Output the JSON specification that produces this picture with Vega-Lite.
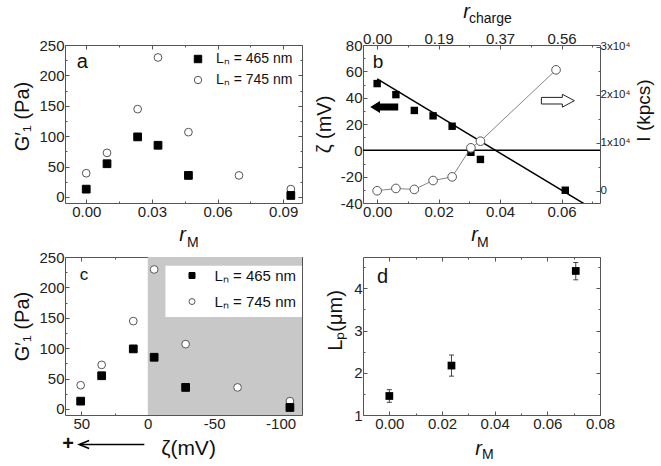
{
  "$schema": "https://vega.github.io/schema/vega-lite/v6.json",
  "background": "white",
  "padding": {"left": 12, "top": 0, "right": 0, "bottom": 0},
  "config": {
    "font": "Liberation Sans",
    "view": {"stroke": "#555555", "strokeWidth": 1},
    "axis": {"domain": false, "grid": false, "zindex": 1, "tickColor": "#555555", "tickWidth": 1, "labelFont": "Liberation Sans", "labelFontSize": 15, "labelColor": "#222222", "labelPadding": 5, "labelFlush": false, "labelOverlap": false, "titleFont": "Liberation Sans", "titleFontSize": 20, "titleFontWeight": "normal", "titleColor": "#111111"},
    "text": {"font": "Liberation Sans", "color": "#111111"}
  },
  "datasets": {
    "gp": [
      {"series": "Lₙ = 745 nm", "r": 0, "zeta": 50.5, "g": 39},
      {"series": "Lₙ = 745 nm", "r": 0.0095, "zeta": 34.7, "g": 72.5},
      {"series": "Lₙ = 745 nm", "r": 0.0235, "zeta": 10.9, "g": 144.5},
      {"series": "Lₙ = 745 nm", "r": 0.0328, "zeta": -4.8, "g": 229.5},
      {"series": "Lₙ = 745 nm", "r": 0.0467, "zeta": -28.5, "g": 106.6},
      {"series": "Lₙ = 745 nm", "r": 0.0698, "zeta": -67.6, "g": 35.4},
      {"series": "Lₙ = 745 nm", "r": 0.0935, "zeta": -107, "g": 12.8},
      {"series": "Lₙ = 465 nm", "r": 0, "zeta": 50.5, "g": 12.8},
      {"series": "Lₙ = 465 nm", "r": 0.0095, "zeta": 34.7, "g": 54.6},
      {"series": "Lₙ = 465 nm", "r": 0.0235, "zeta": 10.9, "g": 98.8},
      {"series": "Lₙ = 465 nm", "r": 0.0328, "zeta": -4.8, "g": 85},
      {"series": "Lₙ = 465 nm", "r": 0.0467, "zeta": -28.5, "g": 35.4},
      {"series": "Lₙ = 465 nm", "r": 0.0935, "zeta": -107, "g": 2.4}
    ],
    "zb": [
      {"r": 0, "z": 50.7}, {"r": 0.0061, "z": 42.3}, {"r": 0.0121, "z": 30.3}, {"r": 0.0182, "z": 26.2},
      {"r": 0.0244, "z": 18.3}, {"r": 0.0305, "z": -1.5}, {"r": 0.0336, "z": -6.9}, {"r": 0.0612, "z": -30.3}
    ],
    "fitb": [{"r": 0, "z": 54.3}, {"r": 0.068, "z": -41.5}],
    "ib": [
      {"r": 0, "i": 0}, {"r": 0.0061, "i": 480}, {"r": 0.0121, "i": 275}, {"r": 0.0182, "i": 2130},
      {"r": 0.0244, "i": 2890}, {"r": 0.0305, "i": 8940}, {"r": 0.0336, "i": 10320}, {"r": 0.0582, "i": 25180}
    ],
    "lp": [
      {"r": 0, "lp": 1.45, "lo": 1.3, "hi": 1.6},
      {"r": 0.0236, "lp": 2.17, "lo": 1.92, "hi": 2.42},
      {"r": 0.0708, "lp": 4.41, "lo": 4.2, "hi": 4.61}
    ],
    "one": [{}]
  },
  "columns": 2,
  "spacing": {"row": 54, "column": 61},
  "bounds": "flush",
  "resolve": {"scale": {"shape": "independent", "fill": "independent", "stroke": "independent"}},
  "concat": [
    {
      "width": 237, "height": 158,
      "resolve": {"axis": {"x": "independent", "y": "independent"}},
      "layer": [
        {
          "data": {"name": "gp"},
          "mark": {"type": "point", "filled": true, "strokeWidth": 1, "opacity": 1, "size": 60},
          "encoding": {
            "x": {"field": "r", "type": "quantitative", "scale": {"domain": [-0.0097, 0.0986], "nice": false, "zero": false},
              "axis": {"orient": "bottom", "values": [0, 0.015, 0.03, 0.045, 0.06, 0.075, 0.09], "labelExpr": "indexof([0, 0.03, 0.06, 0.09], datum.value) >= 0 ? format(datum.value, '.2f') : ''", "tickSize": {"condition": {"test": "indexof([0, 0.03, 0.06, 0.09], datum.value) < 0", "value": -2}, "value": -4}, "title": "r", "titleFontStyle": "italic", "titleX": 117, "titlePadding": 3}},
            "y": {"field": "g", "type": "quantitative", "scale": {"domain": [-10, 250], "nice": false, "zero": false},
              "axis": {"orient": "left", "values": [0, 25, 50, 75, 100, 125, 150, 175, 200, 225, 250], "labelExpr": "datum.value % 50 == 0 ? datum.label : ''", "tickSize": {"condition": {"test": "datum.value % 50 != 0", "value": -2}, "value": -4}, "title": "G′₁ (Pa)", "titleY": 71, "titlePadding": 6}},
            "shape": {"field": "series", "type": "nominal", "scale": {"domain": ["Lₙ = 465 nm", "Lₙ = 745 nm"], "range": ["square", "circle"]},
              "legend": {"title": null, "orient": "none", "legendX": 126, "legendY": 7, "symbolSize": 55, "labelFontSize": 14, "labelOffset": 11, "rowPadding": 7, "padding": 0, "labelColor": "#111111", "symbolStrokeWidth": 1}},
            "fill": {"field": "series", "type": "nominal", "scale": {"domain": ["Lₙ = 465 nm", "Lₙ = 745 nm"], "range": ["#000000", "#ffffff"]}},
            "stroke": {"field": "series", "type": "nominal", "scale": {"domain": ["Lₙ = 465 nm", "Lₙ = 745 nm"], "range": ["#000000", "#555555"]}}
          }
        },
        {
          "data": {"name": "one"},
          "mark": {"type": "text", "text": "a", "fontSize": 20, "align": "left", "baseline": "alphabetic"},
          "encoding": {"x": {"datum": -0.00435, "scale": {"domain": [-0.0097, 0.0986], "nice": false, "zero": false}, "axis": null}, "y": {"datum": 211.7, "scale": {"domain": [-10, 250], "nice": false, "zero": false}, "axis": null}}
        },
        {
          "data": {"name": "one"},
          "mark": {"type": "text", "text": "M", "fontSize": 14, "align": "left", "baseline": "alphabetic"},
          "encoding": {"x": {"datum": 0.046, "scale": {"domain": [-0.0097, 0.0986], "nice": false, "zero": false}, "axis": null}, "y": {"datum": -82.5, "scale": {"domain": [-10, 250], "nice": false, "zero": false}, "axis": null}}
        },
        {
          "data": {"name": "one"},
          "mark": {"type": "point", "opacity": 0},
          "encoding": {
            "x": {"datum": 0, "scale": {"domain": [-0.0097, 0.0986], "nice": false, "zero": false},
              "axis": {"orient": "top", "values": [0, 0.015, 0.03, 0.045, 0.06, 0.075, 0.09], "labels": false, "title": null, "tickSize": {"condition": {"test": "indexof([0, 0.03, 0.06, 0.09], datum.value) < 0", "value": -2}, "value": -4}}},
            "y": {"datum": 0, "scale": {"domain": [-10, 250], "nice": false, "zero": false},
              "axis": {"orient": "right", "values": [0, 25, 50, 75, 100, 125, 150, 175, 200, 225, 250], "labels": false, "title": null, "tickSize": {"condition": {"test": "datum.value % 50 != 0", "value": -2}, "value": -4}}}
          }
        }
      ]
    },
    {
      "width": 237, "height": 158,
      "resolve": {"scale": {"y": "independent"}, "axis": {"x": "independent", "y": "independent"}},
      "layer": [
        {
          "data": {"name": "one"},
          "mark": {"type": "rule", "color": "#000000", "strokeWidth": 1.5},
          "encoding": {"y": {"datum": 0, "scale": {"domain": [-40, 80], "nice": false, "zero": false},
            "axis": {"orient": "left", "values": [-40, -30, -20, -10, 0, 10, 20, 30, 40, 50, 60, 70, 80], "labelExpr": "datum.value % 20 == 0 ? '' + datum.value : ''", "tickSize": {"condition": {"test": "datum.value % 20 != 0", "value": -2}, "value": -4}, "title": "ζ (mV)", "titlePadding": 6}}}
        },
        {
          "data": {"name": "fitb"},
          "mark": {"type": "line", "color": "#000000", "strokeWidth": 1.5, "clip": true},
          "encoding": {
            "x": {"field": "r", "type": "quantitative", "scale": {"domain": [-0.0046, 0.0725], "nice": false, "zero": false},
              "axis": {"orient": "bottom", "values": [0, 0.01, 0.02, 0.03, 0.04, 0.05, 0.06, 0.07], "labelExpr": "indexof([0, 0.02, 0.04, 0.06], datum.value) >= 0 ? format(datum.value, '.2f') : ''", "tickSize": {"condition": {"test": "indexof([0, 0.02, 0.04, 0.06], datum.value) < 0", "value": -2}, "value": -4}, "title": "r", "titleFontStyle": "italic", "titleX": 111, "titlePadding": 3}},
            "y": {"field": "z", "type": "quantitative", "scale": {"domain": [-40, 80], "nice": false, "zero": false}, "axis": null}
          }
        },
        {
          "data": {"name": "zb"},
          "mark": {"type": "point", "shape": "square", "filled": true, "color": "#000000", "size": 55, "opacity": 1},
          "encoding": {
            "x": {"field": "r", "type": "quantitative", "scale": {"domain": [-0.0046, 0.0725], "nice": false, "zero": false}, "axis": null},
            "y": {"field": "z", "type": "quantitative", "scale": {"domain": [-40, 80], "nice": false, "zero": false}, "axis": null}
          }
        },
        {
          "data": {"name": "one"},
          "mark": {"type": "point", "shape": "M -1 0 L -0.3 -0.43 L -0.3 -0.25 L 1 -0.25 L 1 0.25 L -0.3 0.25 L -0.3 0.43 Z", "filled": true, "fill": "#000000", "strokeWidth": 0, "size": 784, "opacity": 1},
          "encoding": {"x": {"datum": 0.0023, "scale": {"domain": [-0.0046, 0.0725], "nice": false, "zero": false}, "axis": null}, "y": {"datum": 32.9, "scale": {"domain": [-40, 80], "nice": false, "zero": false}, "axis": null}}
        },
        {
          "data": {"name": "one"},
          "mark": {"type": "point", "shape": "M 1 0 L 0.27 -0.39 L 0.27 -0.2 L -1 -0.2 L -1 0.2 L 0.27 0.2 L 0.27 0.39 Z", "filled": true, "fill": "#ffffff", "stroke": "#222222", "strokeWidth": 1, "size": 1089, "opacity": 1},
          "encoding": {"x": {"datum": 0.0588, "scale": {"domain": [-0.0046, 0.0725], "nice": false, "zero": false}, "axis": null}, "y": {"datum": 37.7, "scale": {"domain": [-40, 80], "nice": false, "zero": false}, "axis": null}}
        },
        {
          "data": {"name": "one"},
          "mark": {"type": "text", "text": "b", "fontSize": 19, "align": "left", "baseline": "alphabetic"},
          "encoding": {"x": {"datum": -0.00144, "scale": {"domain": [-0.0046, 0.0725], "nice": false, "zero": false}, "axis": null}, "y": {"datum": 62.3, "scale": {"domain": [-40, 80], "nice": false, "zero": false}, "axis": null}}
        },
        {
          "data": {"name": "one"},
          "mark": {"type": "text", "text": "M", "fontSize": 14, "align": "left", "baseline": "alphabetic"},
          "encoding": {"x": {"datum": 0.0325, "scale": {"domain": [-0.0046, 0.0725], "nice": false, "zero": false}, "axis": null}, "y": {"datum": -73.5, "scale": {"domain": [-40, 80], "nice": false, "zero": false}, "axis": null}}
        },
        {
          "data": {"name": "one"},
          "mark": {"type": "text", "text": "charge", "fontSize": 14, "align": "left", "baseline": "alphabetic"},
          "encoding": {"x": {"datum": 0.0299, "scale": {"domain": [-0.0046, 0.0725], "nice": false, "zero": false}, "axis": null}, "y": {"datum": 96.5, "scale": {"domain": [-40, 80], "nice": false, "zero": false}, "axis": null}}
        },
        {
          "data": {"name": "ib"},
          "mark": {"type": "line", "color": "#666666", "strokeWidth": 0.8},
          "encoding": {
            "x": {"field": "r", "type": "quantitative", "scale": {"domain": [-0.0046, 0.0725], "nice": false, "zero": false}, "axis": null},
            "y": {"field": "i", "type": "quantitative", "scale": {"domain": [-2550, 30350], "nice": false, "zero": false},
              "axis": {"orient": "right", "values": [0, 5000, 10000, 15000, 20000, 25000, 30000], "labelExpr": "datum.value == 0 ? '0' : (datum.value % 10000 == 0 ? (datum.value / 10000) + 'x10⁴' : '')", "labelFontSize": 11.5, "labelPadding": 4, "tickSize": {"condition": {"test": "datum.value % 10000 != 0", "value": -2}, "value": -4}, "title": "I (kpcs)", "titleFontSize": 19, "titleAngle": 270, "titleBaseline": "top", "titleY": 65, "titlePadding": 5}}
          }
        },
        {
          "data": {"name": "ib"},
          "mark": {"type": "point", "shape": "circle", "filled": true, "fill": "#ffffff", "stroke": "#555555", "strokeWidth": 1, "size": 75, "opacity": 1},
          "encoding": {
            "x": {"field": "r", "type": "quantitative", "scale": {"domain": [-0.0046, 0.0725], "nice": false, "zero": false}, "axis": null},
            "y": {"field": "i", "type": "quantitative", "scale": {"domain": [-2550, 30350], "nice": false, "zero": false}, "axis": null}
          }
        },
        {
          "data": {"name": "one"},
          "mark": {"type": "point", "opacity": 0},
          "encoding": {
            "x": {"datum": 0, "scale": {"domain": [-0.0046, 0.0725], "nice": false, "zero": false},
              "axis": {"orient": "top", "values": [0, 0.01, 0.02, 0.03, 0.04, 0.05, 0.06, 0.07], "labelExpr": "datum.value == 0 ? '0.00' : datum.value == 0.02 ? '0.19' : datum.value == 0.04 ? '0.37' : datum.value == 0.06 ? '0.56' : ''", "labelPadding": 3, "tickSize": {"condition": {"test": "indexof([0, 0.02, 0.04, 0.06], datum.value) < 0", "value": -2}, "value": -4}, "title": "r", "titleFontStyle": "italic", "titleX": 103, "titlePadding": 8}}
          }
        }
      ]
    },
    {
      "width": 237, "height": 158,
      "resolve": {"axis": {"x": "independent", "y": "independent"}},
      "layer": [
        {
          "data": {"name": "one"},
          "mark": {"type": "rect", "fill": "#c8c8c8", "opacity": 1},
          "encoding": {"x": {"datum": 0, "scale": {"domain": [-116.1, 62.3], "reverse": true, "nice": false, "zero": false}, "axis": null}, "x2": {"datum": -116.1}, "y": {"datum": -10, "scale": {"domain": [-10, 250], "nice": false, "zero": false}, "axis": null}, "y2": {"datum": 250}}
        },
        {
          "data": {"name": "one"},
          "mark": {"type": "rect", "fill": "#ffffff", "opacity": 1},
          "encoding": {"x": {"datum": -13.3, "scale": {"domain": [-116.1, 62.3], "reverse": true, "nice": false, "zero": false}, "axis": null}, "x2": {"datum": -116.1}, "y": {"datum": 151.3, "scale": {"domain": [-10, 250], "nice": false, "zero": false}, "axis": null}, "y2": {"datum": 235.7}}
        },
        {
          "data": {"name": "gp"},
          "mark": {"type": "point", "filled": true, "strokeWidth": 1, "opacity": 1, "size": 60},
          "encoding": {
            "x": {"field": "zeta", "type": "quantitative", "scale": {"domain": [-116.1, 62.3], "reverse": true, "nice": false, "zero": false},
              "axis": {"orient": "bottom", "values": [50, 25, 0, -25, -50, -75, -100], "labelExpr": "datum.value % 50 == 0 ? '' + datum.value : ''", "tickSize": {"condition": {"test": "datum.value % 50 != 0", "value": -2}, "value": -4}, "title": "ζ(mV)", "titleFontSize": 21, "titleX": 123, "titlePadding": 4}},
            "y": {"field": "g", "type": "quantitative", "scale": {"domain": [-10, 250], "nice": false, "zero": false},
              "axis": {"orient": "left", "values": [0, 25, 50, 75, 100, 125, 150, 175, 200, 225, 250], "labelExpr": "datum.value % 50 == 0 ? datum.label : ''", "tickSize": {"condition": {"test": "datum.value % 50 != 0", "value": -2}, "value": -4}, "title": "G′₁ (Pa)", "titleY": 69, "titlePadding": 6}},
            "shape": {"field": "series", "type": "nominal", "scale": {"domain": ["Lₙ = 465 nm", "Lₙ = 745 nm"], "range": ["square", "circle"]},
              "legend": {"title": null, "orient": "none", "legendX": 119.5, "legendY": 11, "symbolSize": 36, "labelFontSize": 15, "labelOffset": 15, "rowPadding": 10, "padding": 0, "labelColor": "#111111", "symbolStrokeWidth": 1}},
            "fill": {"field": "series", "type": "nominal", "scale": {"domain": ["Lₙ = 465 nm", "Lₙ = 745 nm"], "range": ["#000000", "#ffffff"]}},
            "stroke": {"field": "series", "type": "nominal", "scale": {"domain": ["Lₙ = 465 nm", "Lₙ = 745 nm"], "range": ["#000000", "#555555"]}}
          }
        },
        {
          "data": {"name": "one"},
          "mark": {"type": "text", "text": "c", "fontSize": 17, "align": "left", "baseline": "alphabetic"},
          "encoding": {"x": {"datum": 51.2, "scale": {"domain": [-116.1, 62.3], "reverse": true, "nice": false, "zero": false}, "axis": null}, "y": {"datum": 211.7, "scale": {"domain": [-10, 250], "nice": false, "zero": false}, "axis": null}}
        },
        {
          "data": {"name": "one"},
          "mark": {"type": "text", "text": "+", "fontSize": 20, "fontWeight": "bold", "align": "center", "baseline": "middle"},
          "encoding": {"x": {"datum": 60, "scale": {"domain": [-116.1, 62.3], "reverse": true, "nice": false, "zero": false}, "axis": null}, "y": {"datum": -58.5, "scale": {"domain": [-10, 250], "nice": false, "zero": false}, "axis": null}}
        },
        {
          "data": {"name": "one"},
          "mark": {"type": "rule", "color": "#000000", "strokeWidth": 1.5},
          "encoding": {"x": {"datum": 51, "scale": {"domain": [-116.1, 62.3], "reverse": true, "nice": false, "zero": false}, "axis": null}, "x2": {"datum": 2.6}, "y": {"datum": -58.5, "scale": {"domain": [-10, 250], "nice": false, "zero": false}, "axis": null}}
        },
        {
          "data": {"name": "one"},
          "mark": {"type": "point", "shape": "M 1 -0.8 L -1 0 L 1 0.8", "filled": false, "stroke": "#000000", "strokeWidth": 1.5, "size": 100, "opacity": 1},
          "encoding": {"x": {"datum": 47.9, "scale": {"domain": [-116.1, 62.3], "reverse": true, "nice": false, "zero": false}, "axis": null}, "y": {"datum": -58.5, "scale": {"domain": [-10, 250], "nice": false, "zero": false}, "axis": null}}
        },
        {
          "data": {"name": "one"},
          "mark": {"type": "point", "opacity": 0},
          "encoding": {
            "x": {"datum": 0, "scale": {"domain": [-116.1, 62.3], "reverse": true, "nice": false, "zero": false},
              "axis": {"orient": "top", "values": [50, 25, 0, -25, -50, -75, -100], "labels": false, "title": null, "tickSize": {"condition": {"test": "datum.value % 50 != 0", "value": -2}, "value": -4}}},
            "y": {"datum": 0, "scale": {"domain": [-10, 250], "nice": false, "zero": false},
              "axis": {"orient": "right", "values": [0, 25, 50, 75, 100, 125, 150, 175, 200, 225, 250], "labels": false, "title": null, "tickSize": {"condition": {"test": "datum.value % 50 != 0", "value": -2}, "value": -4}}}
          }
        }
      ]
    },
    {
      "width": 237, "height": 158,
      "resolve": {"axis": {"x": "independent", "y": "independent"}},
      "layer": [
        {
          "data": {"name": "lp"},
          "mark": {"type": "rule", "color": "#444444", "strokeWidth": 1},
          "encoding": {"x": {"field": "r", "type": "quantitative", "scale": {"domain": [-0.01, 0.08], "nice": false, "zero": false}, "axis": null}, "y": {"field": "lo", "type": "quantitative", "scale": {"domain": [1, 4.74], "nice": false, "zero": false}, "axis": null}, "y2": {"field": "hi"}}
        },
        {
          "data": {"name": "lp"},
          "mark": {"type": "tick", "orient": "horizontal", "color": "#444444", "thickness": 1, "size": 5, "opacity": 1},
          "encoding": {"x": {"field": "r", "type": "quantitative", "scale": {"domain": [-0.01, 0.08], "nice": false, "zero": false}, "axis": null}, "y": {"field": "lo", "type": "quantitative", "scale": {"domain": [1, 4.74], "nice": false, "zero": false}, "axis": null}}
        },
        {
          "data": {"name": "lp"},
          "mark": {"type": "tick", "orient": "horizontal", "color": "#444444", "thickness": 1, "size": 5, "opacity": 1},
          "encoding": {"x": {"field": "r", "type": "quantitative", "scale": {"domain": [-0.01, 0.08], "nice": false, "zero": false}, "axis": null}, "y": {"field": "hi", "type": "quantitative", "scale": {"domain": [1, 4.74], "nice": false, "zero": false}, "axis": null}}
        },
        {
          "data": {"name": "lp"},
          "mark": {"type": "point", "shape": "square", "filled": true, "color": "#000000", "size": 60, "opacity": 1},
          "encoding": {
            "x": {"field": "r", "type": "quantitative", "scale": {"domain": [-0.01, 0.08], "nice": false, "zero": false},
              "axis": {"orient": "bottom", "values": [0, 0.01, 0.02, 0.03, 0.04, 0.05, 0.06, 0.07, 0.08], "labelExpr": "indexof([0, 0.02, 0.04, 0.06, 0.08], datum.value) >= 0 ? format(datum.value, '.2f') : ''", "tickSize": {"condition": {"test": "indexof([0, 0.02, 0.04, 0.06, 0.08], datum.value) < 0", "value": -2}, "value": -4}, "title": "r", "titleFontStyle": "italic", "titleX": 115, "titlePadding": 5}},
            "y": {"field": "lp", "type": "quantitative", "scale": {"domain": [1, 4.74], "nice": false, "zero": false},
              "axis": {"orient": "left", "values": [1, 1.5, 2, 2.5, 3, 3.5, 4, 4.5], "labelExpr": "datum.value % 1 == 0 ? format(datum.value, 'd') : ''", "tickSize": {"condition": {"test": "datum.value % 1 != 0", "value": -2}, "value": -4}, "title": "Lₚ(μm)", "titleY": 63, "titlePadding": 8}}
          }
        },
        {
          "data": {"name": "one"},
          "mark": {"type": "text", "text": "d", "fontSize": 20, "align": "left", "baseline": "alphabetic"},
          "encoding": {"x": {"datum": -0.0047, "scale": {"domain": [-0.01, 0.08], "nice": false, "zero": false}, "axis": null}, "y": {"datum": 4.132, "scale": {"domain": [1, 4.74], "nice": false, "zero": false}, "axis": null}}
        },
        {
          "data": {"name": "one"},
          "mark": {"type": "text", "text": "M", "fontSize": 14, "align": "left", "baseline": "alphabetic"},
          "encoding": {"x": {"datum": 0.0352, "scale": {"domain": [-0.01, 0.08], "nice": false, "zero": false}, "axis": null}, "y": {"datum": -0.04, "scale": {"domain": [1, 4.74], "nice": false, "zero": false}, "axis": null}}
        },
        {
          "data": {"name": "one"},
          "mark": {"type": "point", "opacity": 0},
          "encoding": {
            "x": {"datum": 0, "scale": {"domain": [-0.01, 0.08], "nice": false, "zero": false},
              "axis": {"orient": "top", "values": [0, 0.01, 0.02, 0.03, 0.04, 0.05, 0.06, 0.07, 0.08], "labels": false, "title": null, "tickSize": {"condition": {"test": "indexof([0, 0.02, 0.04, 0.06, 0.08], datum.value) < 0", "value": -2}, "value": -4}}},
            "y": {"datum": 1, "scale": {"domain": [1, 4.74], "nice": false, "zero": false},
              "axis": {"orient": "right", "values": [1, 1.5, 2, 2.5, 3, 3.5, 4, 4.5], "labels": false, "title": null, "tickSize": {"condition": {"test": "datum.value % 1 != 0", "value": -2}, "value": -4}}}
          }
        }
      ]
    }
  ]
}
